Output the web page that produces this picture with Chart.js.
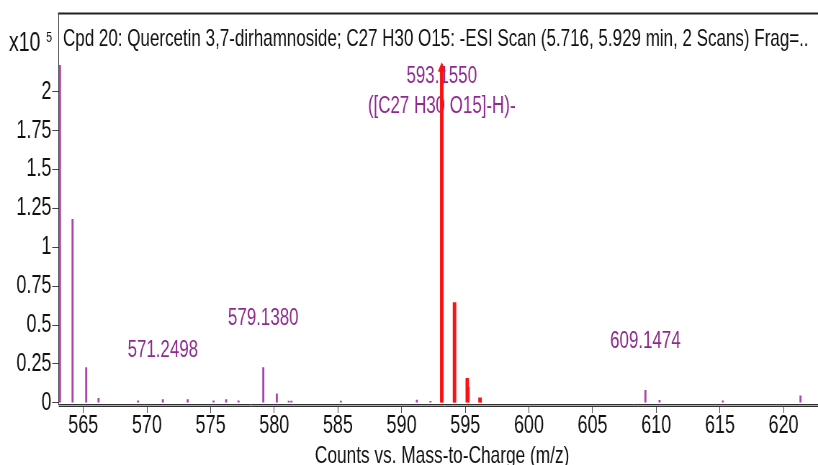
<!DOCTYPE html>
<html>
<head>
<meta charset="utf-8">
<script src="https://cdn.jsdelivr.net/npm/chart.js@4.4.1/dist/chart.umd.min.js"></script>
<style>
  html, body { margin: 0; padding: 0; background: #fff; overflow: hidden; }
  #wrap { width: 818px; height: 465px; overflow: hidden; }
  /* the original plot uses a tall, narrow font: draw wide and squeeze */
  #spec { transform: scaleX(0.72007); transform-origin: 0 0; }
</style>
</head>
<body>
<div id="wrap"><canvas id="spec" width="1153" height="465"></canvas></div>
<script>
// measured spectrum, intensity in units of 10^5 counts
var mz = [563.17, 564.16, 565.23, 566.2, 569.3, 571.25, 573.2, 575.23, 576.22, 577.19,
  579.14, 580.2, 581.14, 581.35, 585.23, 591.2, 592.27, 593.155, 594.16, 595.27,
  596.2, 609.15, 610.26, 615.23, 621.33];
var counts = [2.17, 1.18, 0.227, 0.028, 0.012, 0.02, 0.02, 0.012, 0.02, 0.012,
  0.227, 0.058, 0.01, 0.01, 0.01, 0.018, 0.009, 2.14, 0.63, 0.1,
  0.012, 0.08, 0.016, 0.012, 0.045];
// predicted isotope pattern (red)
var isoMz = [593.155, 594.158, 595.16, 596.16];
var isoCounts = [2.15, 0.645, 0.157, 0.032];

var labelMz = [571.2498, 579.1380, 593.1550, 609.1474];
var labelText = ["571.2498", "579.1380", "593.1550", "609.1474"];
var labelSub = ["", "", "([C27 H30 O15]-H)-", ""];

var xTicks = [565, 570, 575, 580, 585, 590, 595, 600, 605, 610, 615, 620];
var yTicks = [0, 0.25, 0.5, 0.75, 1, 1.25, 1.5, 1.75, 2];

var title = "Cpd 20: Quercetin 3,7-dirhamnoside; C27 H30 O15: -ESI Scan (5.716, 5.929 min, 2 Scans) Frag=..";
var xTitle = "Counts vs. Mass-to-Charge (m/z)";

var K = 0.72007; // horizontal squeeze, canvas px -> screen px
var FONT = '"Liberation Sans", Arial, sans-serif';
var PURPLE = '#a845a8';
var LABEL = '#8e2a8e';
var RED = '#ff1010';

function peakTop(x) {
  var best = 0, d = 1e9;
  for (var i = 0; i < mz.length; i++) {
    if (Math.abs(mz[i] - x) < d) { d = Math.abs(mz[i] - x); best = counts[i]; }
  }
  return best;
}

var annotate = {
  id: 'annotate',
  beforeDatasetsDraw: function (chart) {
    var ctx = chart.ctx, xs = chart.scales.x, ys = chart.scales.y;
    var W = chart.width;
    ctx.save();
    // x axis is drawn as a double rule
    ctx.strokeStyle = '#aaa'; ctx.lineWidth = 1;
    ctx.beginPath(); ctx.moveTo(chart.chartArea.left, 405.5); ctx.lineTo(W, 405.5); ctx.stroke();
    ctx.strokeStyle = '#333';
    ctx.beginPath(); ctx.moveTo(chart.chartArea.left, 406.5); ctx.lineTo(W, 406.5); ctx.stroke();

    ctx.fillStyle = LABEL;
    ctx.font = '23.5px ' + FONT;
    ctx.textAlign = 'center';
    ctx.textBaseline = 'middle';
    for (var i = 0; i < labelMz.length; i++) {
      var px = xs.getPixelForValue(labelMz[i]);
      var py = Math.max(ys.getPixelForValue(peakTop(labelMz[i])) - 49, 77);
      ctx.fillText(labelText[i], px, py);
      if (labelSub[i]) ctx.fillText(labelSub[i], px, py + 30);
    }
    ctx.restore();
  },
  afterDraw: function (chart) {
    var ctx = chart.ctx;
    ctx.save();
    ctx.strokeStyle = '#222'; ctx.lineWidth = 2;
    ctx.beginPath(); ctx.moveTo(58 / K, 13.5); ctx.lineTo(chart.width, 13.5); ctx.stroke();
    ctx.fillStyle = '#111';
    ctx.textBaseline = 'alphabetic';
    ctx.textAlign = 'left';
    ctx.font = '23.6px ' + FONT;
    ctx.fillText(title, 63 / K, 46);
    ctx.font = '27px ' + FONT;
    ctx.fillText('x10', 9 / K, 51);
    ctx.font = '15px ' + FONT;
    ctx.fillText('5', 46 / K, 42);
    ctx.restore();
  }
};

new Chart(document.getElementById('spec'), {
  type: 'bar',
  data: {
    datasets: [
      {
        type: 'scatter',
        data: [{ x: isoMz[0], y: isoCounts[0] }],
        pointStyle: 'triangle',
        pointRadius: 5.5,
        backgroundColor: RED,
        borderColor: RED,
        borderWidth: 1,
        order: 0
      },
      {
        data: isoMz.map(function (m, i) { return { x: m, y: isoCounts[i] }; }),
        backgroundColor: RED,
        barThickness: 4.2,
        grouped: false,
        order: 1
      },
      {
        data: mz.map(function (m, i) { return { x: m, y: counts[i] }; }),
        backgroundColor: PURPLE,
        barThickness: 2.2,
        grouped: false,
        order: 2
      }
    ]
  },
  options: {
    responsive: false,
    animation: false,
    devicePixelRatio: 1,
    layout: { padding: { top: 14, right: 0, left: 0, bottom: 0 } },
    plugins: { legend: { display: false }, tooltip: { enabled: false } },
    scales: {
      x: {
        type: 'linear',
        min: 563.07,
        max: 623.3,
        offset: false,
        afterFit: function (s) { s.height = 61; },
        afterBuildTicks: function (s) { s.ticks = xTicks.map(function (v) { return { value: v }; }); },
        grid: { drawOnChartArea: false, offset: false, tickLength: 9, tickColor: '#444' },
        border: { color: '#333', width: 1 },
        ticks: {
          autoSkip: false, maxRotation: 0, padding: 1, color: '#111',
          font: { family: FONT, size: 25, lineHeight: 1 },
          callback: function (v) { return String(v); }
        },
        title: {
          display: true, text: xTitle, color: '#111',
          font: { family: FONT, size: 24, lineHeight: 1 },
          padding: { top: 0, bottom: -3 }
        }
      },
      y: {
        min: -0.008,
        max: 2.5,
        afterFit: function (s) { s.width = 81.5; },
        afterBuildTicks: function (s) { s.ticks = yTicks.map(function (v) { return { value: v }; }); },
        grid: { drawOnChartArea: false, tickLength: 9, tickColor: '#444' },
        border: { color: '#222', width: 1 },
        ticks: {
          padding: 1, color: '#111',
          font: { family: FONT, size: 25, lineHeight: 1 },
          callback: function (v) { return String(v); }
        }
      }
    }
  },
  plugins: [annotate]
});
</script>
</body>
</html>
